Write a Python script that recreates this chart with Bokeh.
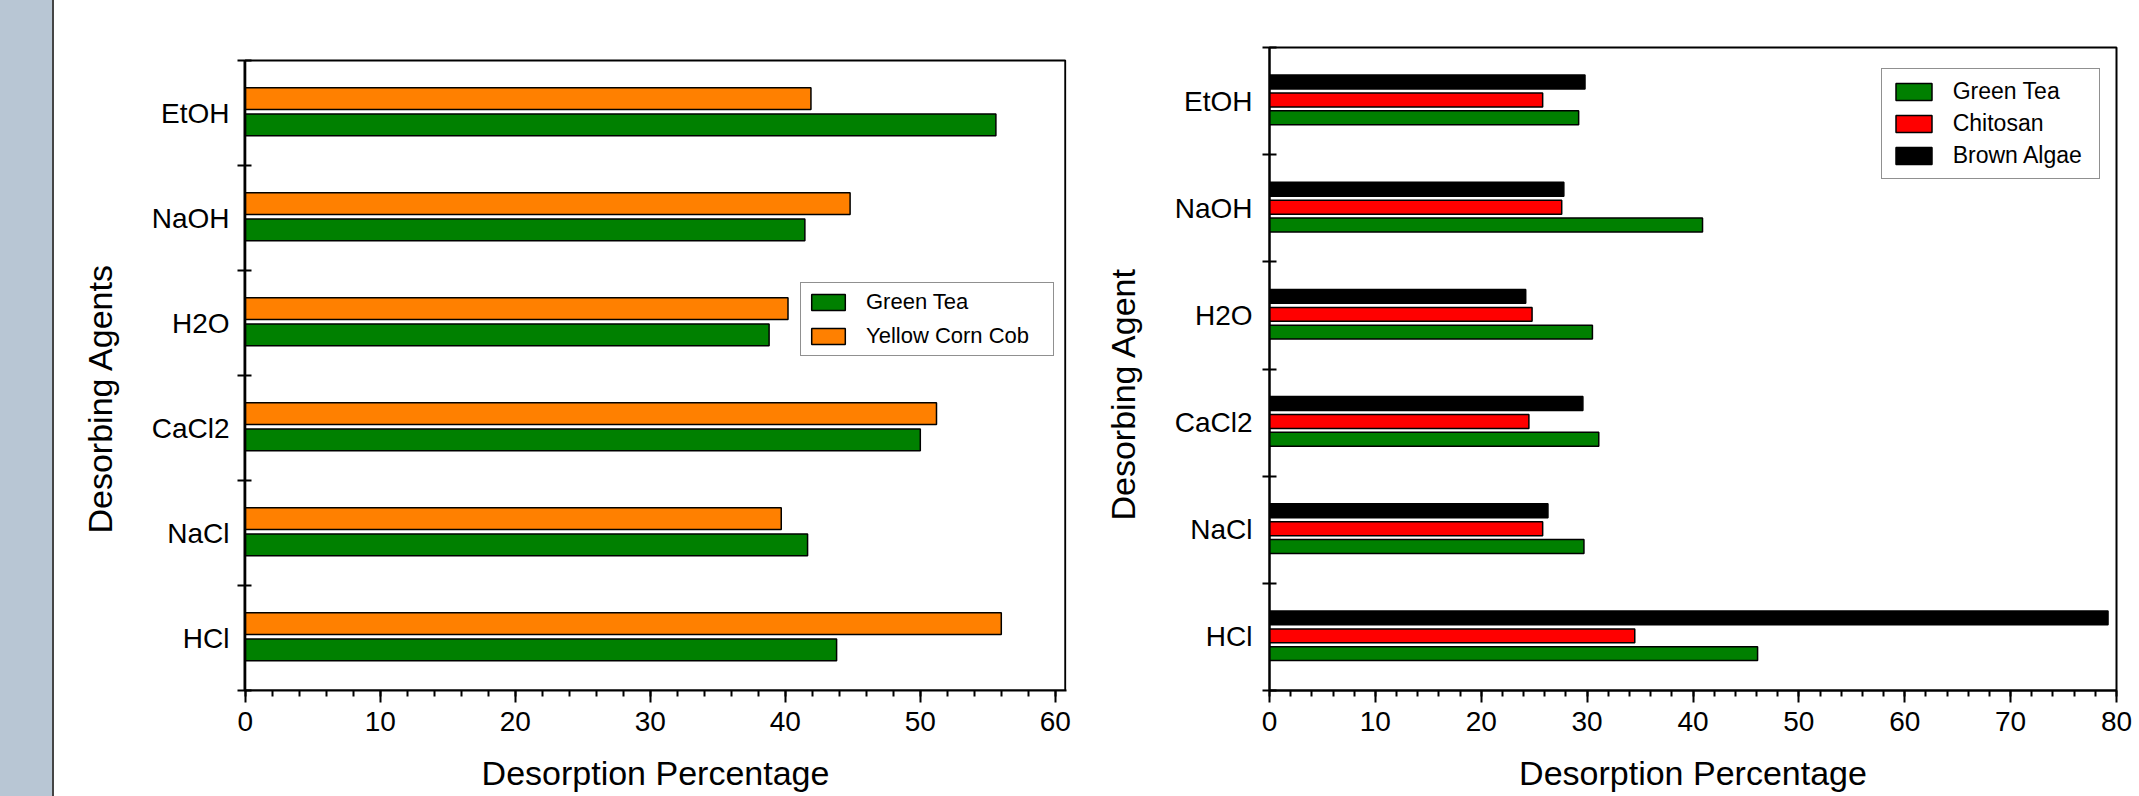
import numpy as np
from bokeh.plotting import figure
from bokeh.layouts import row
from bokeh.models import Range1d, FixedTicker, Legend, LegendItem, Title, BoxAnnotation
from bokeh.embed import file_html
from bokeh.resources import INLINE

# ---------------- data ----------------
categories = ["HCl", "NaCl", "CaCl2", "H2O", "NaOH", "EtOH"]  # bottom -> top

left_green_tea = [43.8, 41.65, 50.0, 38.8, 41.45, 55.6]
left_yellow_corn_cob = [56.0, 39.7, 51.2, 40.2, 44.8, 41.9]

right_green_tea = [46.1, 29.7, 31.1, 30.5, 40.9, 29.2]
right_chitosan = [34.5, 25.8, 24.5, 24.8, 27.6, 25.8]
right_brown_algae = [79.2, 26.3, 29.6, 24.2, 27.8, 29.8]

left_x_ticks = [0, 10, 20, 30, 40, 50, 60]
right_x_ticks = [0, 10, 20, 30, 40, 50, 60, 70, 80]

x_label = "Desorption Percentage"
left_y_label = "Desorbing Agents"
right_y_label = "Desorbing Agent"

FONT = "Liberation Sans"
GREEN = "#008000"
ORANGE = "#FF8000"
RED = "#FF0000"
BLACK = "#000000"

centers = np.arange(len(categories)) + 0.5
bounds = list(range(len(categories) + 1))
overrides = {float(c): name for c, name in zip(centers, categories)}


def style(p, x_ticks, x_max, y_standoff):
    p.grid.visible = False
    p.background_fill_color = "white"
    p.border_fill_alpha = 0

    xa = p.xaxis[0]
    xa.ticker = FixedTicker(ticks=x_ticks, minor_ticks=list(np.arange(0, x_max + 0.01, 2)))
    xa.axis_line_width = 2
    xa.axis_line_color = "black"
    xa.major_tick_line_width = 2
    xa.major_tick_line_color = "black"
    xa.major_tick_out = 12
    xa.major_tick_in = 0
    xa.minor_tick_line_width = 2
    xa.minor_tick_line_color = "black"
    xa.minor_tick_out = 6
    xa.minor_tick_in = 0
    xa.major_label_text_font = FONT
    xa.major_label_text_font_size = "28px"
    xa.major_label_text_color = "black"
    xa.major_label_standoff = 9
    xa.axis_label = x_label
    xa.axis_label_text_font = FONT
    xa.axis_label_text_font_size = "34px"
    xa.axis_label_text_font_style = "normal"
    xa.axis_label_text_color = "black"
    xa.axis_label_text_line_height = 0.9
    xa.axis_label_standoff = 20

    ya = p.yaxis[0]
    ya.ticker = FixedTicker(ticks=list(centers), minor_ticks=bounds)
    ya.major_label_overrides = overrides
    ya.bounds = (0, len(categories))
    ya.axis_line_width = 2
    ya.axis_line_color = "black"
    ya.major_tick_line_color = None
    ya.major_tick_out = 0
    ya.major_tick_in = 0
    ya.minor_tick_line_width = 2
    ya.minor_tick_line_color = "black"
    ya.minor_tick_out = 7
    ya.minor_tick_in = 7
    ya.major_label_text_font = FONT
    ya.major_label_text_font_size = "28px"
    ya.major_label_text_color = "black"
    ya.major_label_standoff = y_standoff


def make_legend(items, loc, font_size, pad, spacing, gw, gh, lw):
    lg = Legend(items=items, location=loc)
    lg.border_line_color = "#222222"
    lg.border_line_width = 1.5
    lg.background_fill_color = "white"
    lg.background_fill_alpha = 1
    lg.padding = pad
    lg.spacing = spacing
    lg.margin = 0
    lg.glyph_width = gw
    lg.glyph_height = gh
    lg.label_height = gh
    lg.label_width = lw
    lg.label_standoff = 17
    lg.label_text_font = FONT
    lg.label_text_font_size = font_size
    lg.label_text_color = "black"
    return lg


def y_title(text, offset, standoff):
    return Title(text=text, align="left", vertical_align="bottom", offset=offset,
                 standoff=standoff, text_font=FONT, text_font_size="34px",
                 text_font_style="normal", text_color="black")


# ---------------- left chart (with the grey-blue page strip behind its border) ----------------
p1 = figure(width=1075, height=796, x_range=Range1d(-0.06, 60.83), y_range=Range1d(0, 6.124),
            output_backend="svg", toolbar_location=None,
            min_border_left=244, min_border_right=9, min_border_top=47, min_border_bottom=106)
style(p1, left_x_ticks, 60, 8)
p1.styles = {"background": "linear-gradient(to right, #B8C6D4 0px, #B8C6D4 52px, "
                           "#454545 52px, #454545 54px, #FFFFFF 54px, #FFFFFF 100%)"}
p1.outline_line_color = None
p1.add_layout(BoxAnnotation(left=0, right=60.74, bottom=0, top=len(categories),
                            fill_alpha=0, line_color="black", line_alpha=1, line_width=2))

r_gt1 = p1.hbar(y=centers - 0.114, left=0, right=left_green_tea, height=0.207,
                fill_color=GREEN, line_color="black", line_width=1.5)
r_yc = p1.hbar(y=centers + 0.138, left=0, right=left_yellow_corn_cob, height=0.207,
               fill_color=ORANGE, line_color="black", line_width=1.5)

p1.add_layout(make_legend([LegendItem(label="Green Tea", renderers=[r_gt1]),
                           LegendItem(label="Yellow Corn Cob", renderers=[r_yc])],
                          (556, 334.3), "22px", 6, 8, 42, 20, 181), "center")
p1.add_layout(y_title(left_y_label, 157, 60), "left")

# ---------------- right chart ----------------
p2 = figure(width=1084, height=796, x_range=Range1d(0, 80), y_range=Range1d(0, 6),
            output_backend="svg", toolbar_location=None, margin=(0, 0, 0, -20),
            min_border_left=214, min_border_right=23, min_border_top=47, min_border_bottom=106)
style(p2, right_x_ticks, 80, 10)
p2.outline_line_color = "black"
p2.outline_line_width = 2

r_gt2 = p2.hbar(y=centers - 0.156, left=0, right=right_green_tea, height=0.13,
                fill_color=GREEN, line_color="black", line_width=1.5)
r_ch = p2.hbar(y=centers + 0.01, left=0, right=right_chitosan, height=0.13,
               fill_color=RED, line_color="black", line_width=1.5)
r_ba = p2.hbar(y=centers + 0.178, left=0, right=right_brown_algae, height=0.13,
               fill_color=BLACK, line_color="black", line_width=1.5)

p2.add_layout(make_legend([LegendItem(label="Green Tea", renderers=[r_gt2]),
                           LegendItem(label="Chitosan", renderers=[r_ch]),
                           LegendItem(label="Brown Algae", renderers=[r_ba])],
                          (611.7, 511), "23px", 9, 5, 45, 21, 137), "center")
p2.add_layout(y_title(right_y_label, 170, 59), "left")

layout = row(p1, p2)
open("out.html", "w").write(file_html(layout, INLINE))
